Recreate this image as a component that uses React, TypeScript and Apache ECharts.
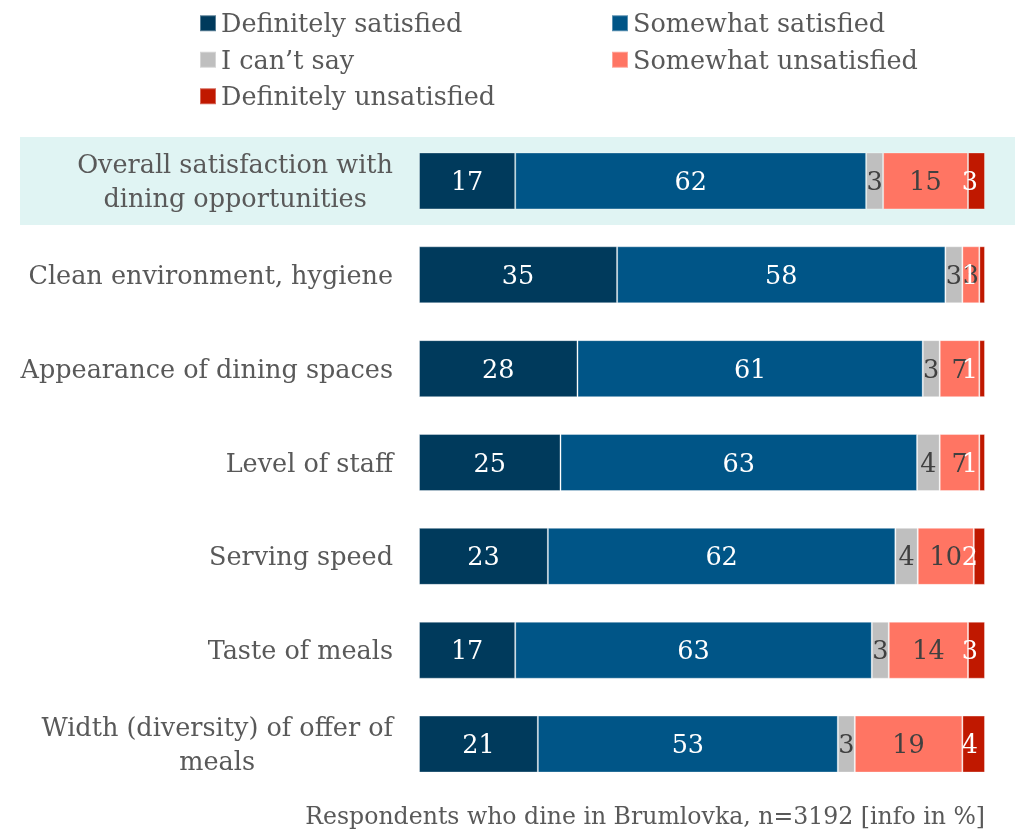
import React, { useEffect, useRef } from "react";
import * as echarts from "echarts";

const categories = [
  "Overall satisfaction with\ndining opportunities",
  "Clean environment, hygiene",
  "Appearance of dining spaces",
  "Level of staff",
  "Serving speed",
  "Taste of meals",
  "Width (diversity) of offer of\nmeals",
];
const seriesNames = [
  "Definitely satisfied",
  "Somewhat satisfied",
  "I can\u2019t say",
  "Somewhat unsatisfied",
  "Definitely unsatisfied",
];
const definitelySatisfied = [17, 35, 28, 25, 23, 17, 21];
const somewhatSatisfied = [62, 58, 61, 63, 62, 63, 53];
const cantSay = [3, 3, 3, 4, 4, 3, 3];
const somewhatUnsatisfied = [15, 3, 7, 7, 10, 14, 19];
const definitelyUnsatisfied = [3, 1, 1, 1, 2, 3, 4];
const footnote = "Respondents who dine in Brumlovka, n=3192 [info in %]";

const FONT = "'DejaVu Serif', 'Liberation Serif', serif";
const GREY_TEXT = "#595959";
const DARK_TEXT = "#404040";
const colors = ["#003A5C", "#005587", "#BFBFBF", "#FF7563", "#C01800"];
const labelColors = ["#ffffff", "#ffffff", DARK_TEXT, DARK_TEXT, "#ffffff"];

export default function App() {
  const ref = useRef<HTMLDivElement>(null);
  useEffect(() => {
    if (!ref.current) return;
    const chart = echarts.init(ref.current, undefined, { renderer: "svg" });
    const dataSets = [
      definitelySatisfied,
      somewhatSatisfied,
      cantSay,
      somewhatUnsatisfied,
      definitelyUnsatisfied,
    ];
    const totals = categories.map((_, r) =>
      dataSets.reduce((s, d) => s + d[r], 0)
    );
    const legendText = {
      fontSize: 25.5,
      color: GREY_TEXT,
      fontFamily: FONT,
      lineHeight: 36.5,
    };
    chart.setOption({
      animation: false,
      textStyle: { fontFamily: FONT },
      legend: [
        {
          data: [seriesNames[0], seriesNames[2], seriesNames[4]],
          orient: "vertical",
          left: 199,
          top: 5,
          padding: 0,
          itemGap: 0,
          itemWidth: 16,
          itemHeight: 16,
          icon: "rect",
          textStyle: legendText,
          selectedMode: false,
        },
        {
          data: [seriesNames[1], seriesNames[3]],
          orient: "vertical",
          left: 611,
          top: 5,
          padding: 0,
          itemGap: 0,
          itemWidth: 16,
          itemHeight: 16,
          icon: "rect",
          textStyle: legendText,
          selectedMode: false,
        },
      ],
      grid: { left: 419, top: 134, width: 566, height: 657, containLabel: false },
      xAxis: {
        type: "value",
        min: 0,
        max: 100,
        show: false,
      },
      yAxis: {
        type: "category",
        data: categories,
        inverse: true,
        axisLine: { show: false },
        axisTick: { show: false },
        splitLine: { show: false },
        axisLabel: {
          margin: 26,
          formatter: (v: string) =>
            v
              .split("\n")
              .map((l) => `{c|${l}}`)
              .join("\n"),
          rich: {
            c: {
              align: "center",
              fontSize: 25.5,
              color: GREY_TEXT,
              fontFamily: FONT,
              lineHeight: 34,
            },
          },
        },
      },
      graphic: [
        {
          type: "rect",
          z: -10,
          silent: true,
          shape: { x: 20, y: 137, width: 995, height: 88 },
          style: { fill: "#E0F4F3" },
        },
        {
          type: "text",
          right: 33,
          top: 804,
          style: {
            text: footnote,
            fontSize: 23.6,
            fontFamily: FONT,
            fill: GREY_TEXT,
          },
        },
      ],
      series: seriesNames.map((name, i) => ({
        name,
        type: "bar",
        stack: "total",
        barWidth: 57,
        data: dataSets[i].map((v, r) => ({
          value: (v / totals[r]) * 100,
          raw: v,
        })),
        itemStyle: {
          color: colors[i],
          borderColor: "rgba(255,255,255,0.35)",
          borderWidth: 1,
        },
        label: {
          show: true,
          position: i === 4 ? "insideRight" : "inside",
          distance: i === 4 ? 7 : 5,
          fontSize: 25.5,
          fontFamily: FONT,
          color: labelColors[i],
          textBorderWidth: 0,
          formatter: (p: any) => String(p.data.raw),
        },
      })),
    });
    return () => chart.dispose();
  }, []);
  return (
    <div
      ref={ref}
      style={{ position: "fixed", left: 0, top: 0, width: 1018, height: 830 }}
    />
  );
}
